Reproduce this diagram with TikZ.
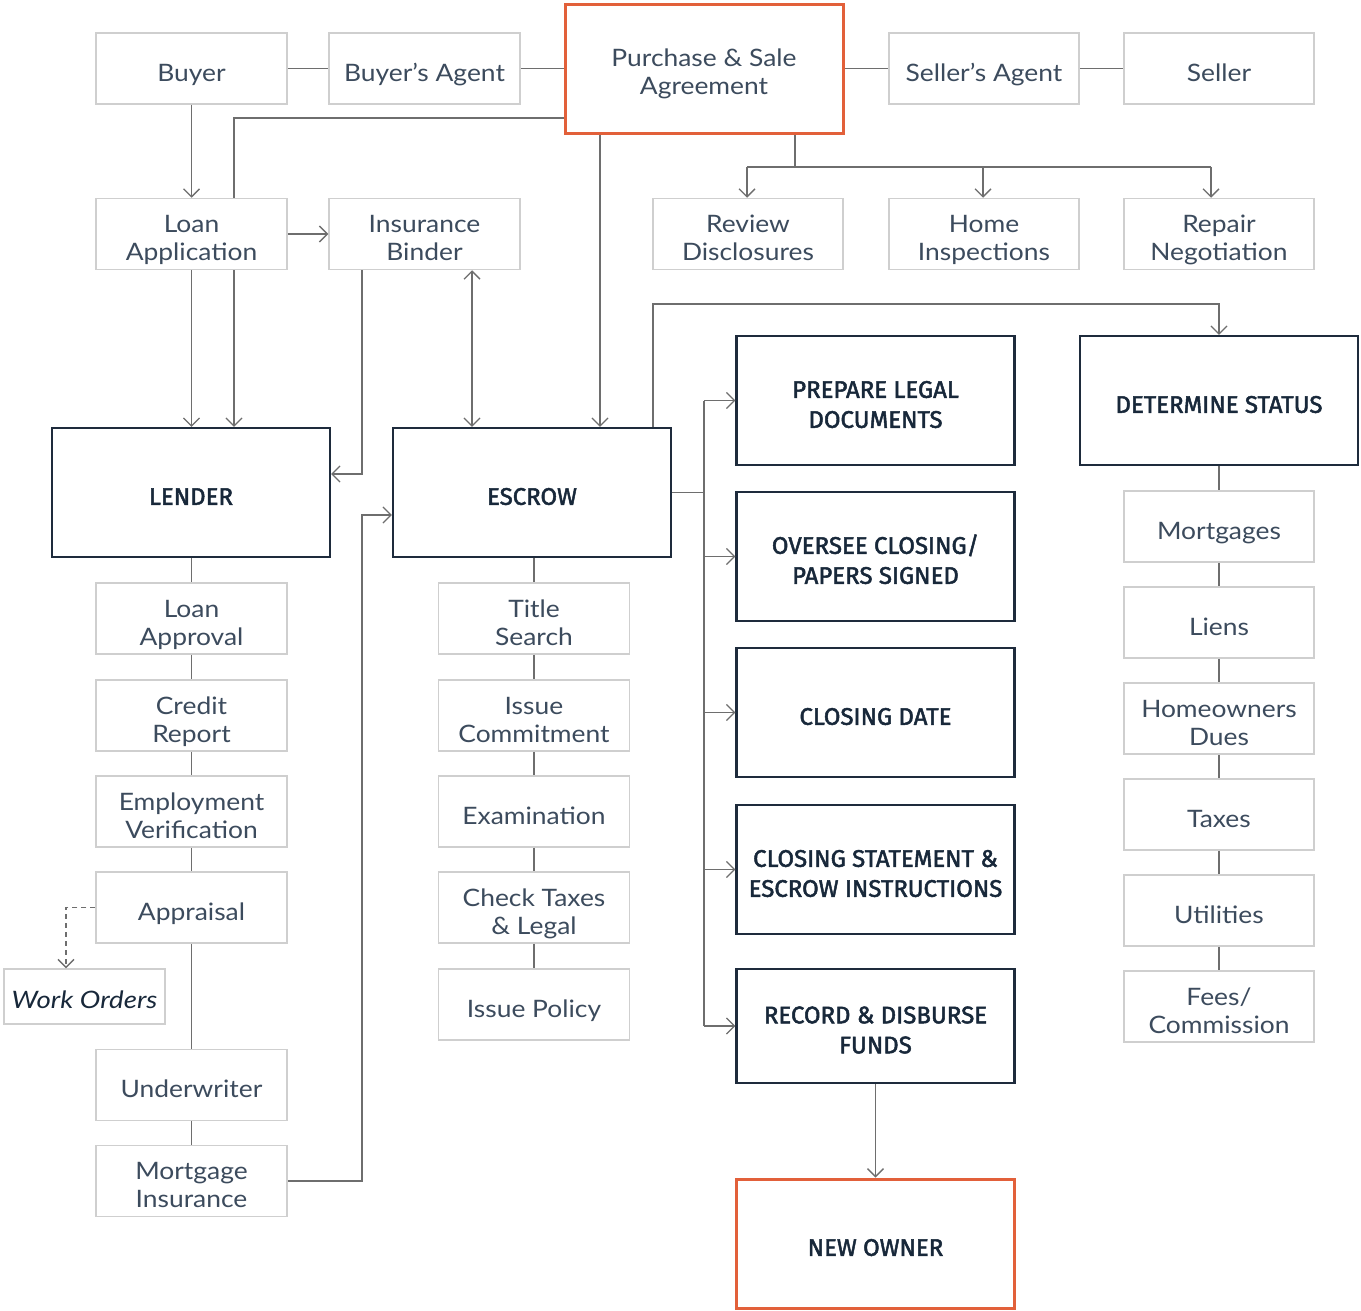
\documentclass[tikz,border=0pt]{standalone}
\usepackage{fontspec}
\setmainfont{Lato}
\newfontfamily\smallfont[FakeStretch=1.1]{Lato}
\newfontfamily\capfont[FakeBold=2]{Fira Sans}
\usetikzlibrary{arrows.meta}
\definecolor{boxgray}{HTML}{CFCFCF}
\definecolor{navy}{HTML}{1E2B3C}
\definecolor{orng}{HTML}{E2603A}
\definecolor{linegray}{HTML}{6E6E6E}
\definecolor{txtsoft}{HTML}{3C4B5D}
\definecolor{txtdark}{HTML}{18283A}
\def\tshift{7pt}
\newcommand\bt[1]{\raisebox{0pt}[\dimexpr\height+\tshift*2\relax][\depth]{\begin{tabular}{@{}c@{}}#1\end{tabular}}}
\tikzset{
  smallbox/.style={draw=boxgray, line width=1.5pt, fill=white, minimum width=191pt, minimum height=71pt,
    text=txtsoft, font=\smallfont\fontsize{24}{28}\selectfont\def\tshift{7pt}, inner sep=0pt},
  bigframe/.style={draw=navy, line width=2.2pt, fill=white, minimum width=278pt, minimum height=129pt, inner sep=0pt},
  bigbox/.style={bigframe, text=txtdark, font=\capfont\fontsize{24}{30}\selectfont\def\tshift{6.3pt}},
  conn/.style={draw=linegray, line width=1.3pt},
  >={Straight Barb[length=8pt,width=16pt]},
}
\begin{document}
\begin{tikzpicture}[x=1pt,y=-1pt]
\useasboundingbox[fill=white] (0,0) rectangle (1361,1311);
% top row
\node[smallbox] (buyer) at (191.5,68.5) {\bt{Buyer}};
\node[smallbox] (bagent) at (424.5,68.5) {\bt{Buyer’s Agent}};
\node[bigframe, draw=orng, line width=3pt, text=txtsoft, font=\smallfont\fontsize{24}{28}\selectfont\def\tshift{5.5pt}] (psa) at (704,69.5) {\bt{Purchase \& Sale\\Agreement}};
\node[smallbox, minimum width=190pt] (sagent) at (984,68.5) {\bt{Seller’s Agent}};
\node[smallbox, minimum width=190pt] (seller) at (1219,68.5) {\bt{Seller}};
% second row
\node[smallbox] (loanapp) at (191.5,234) {\bt{Loan\\Application}};
\node[smallbox] (binder) at (424.5,234) {\bt{Insurance\\Binder}};
\node[smallbox, minimum width=190pt] (review) at (748,234) {\bt{Review\\Disclosures}};
\node[smallbox, minimum width=190pt] (home) at (984,234) {\bt{Home\\Inspections}};
\node[smallbox, minimum width=190pt] (repair) at (1219,234) {\bt{Repair\\Negotiation}};
% big boxes
\node[bigbox] (lender) at (191,492.5) {\bt{LENDER}};
\node[bigbox] (escrow) at (532,492.5) {\bt{ESCROW}};
\node[bigbox] (prepare) at (875.5,400.5) {\bt{PREPARE LEGAL\\DOCUMENTS}};
\node[bigbox] (status) at (1219,400.5) {\bt{DETERMINE STATUS}};
\node[bigbox] (oversee) at (875.5,556.5) {\bt{OVERSEE CLOSING/\\PAPERS SIGNED}};
\node[bigbox] (cdate) at (875.5,712.5) {\bt{CLOSING DATE}};
\node[bigbox] (cstmt) at (875.5,869.5) {\bt{CLOSING STATEMENT \&\\ESCROW INSTRUCTIONS}};
\node[bigbox, minimum height=114pt] (record) at (875.5,1026) {\bt{RECORD \& DISBURSE\\FUNDS}};
\node[bigbox, draw=orng, line width=3pt] (newowner) at (875.5,1243.5) {\bt{NEW OWNER}};
% lender column
\node[smallbox] (loanappr) at (191.5,618.5) {\bt{Loan\\Approval}};
\node[smallbox] (credit) at (191.5,715.5) {\bt{Credit\\Report}};
\node[smallbox] (employ) at (191.5,811.5) {\bt{Employment\\Verification}};
\node[smallbox] (appraisal) at (191.5,907.5) {\bt{Appraisal}};
\node[smallbox] (underwriter) at (191.5,1085) {\bt{Underwriter}};
\node[smallbox] (mortins) at (191.5,1181) {\bt{Mortgage\\Insurance}};
\node[smallbox, minimum width=161pt, minimum height=55pt, text=txtdark, font=\smallfont\itshape\fontsize{24}{28}\selectfont\addfontfeatures{FakeStretch=1.15}\def\tshift{6pt}] (workorders) at (84.5,996.5) {\bt{Work Orders}};
% escrow column
\node[smallbox] (title) at (534,618.5) {\bt{Title\\Search}};
\node[smallbox] (commit) at (534,715.5) {\bt{Issue\\Commitment}};
\node[smallbox] (exam) at (534,811.5) {\bt{Examination}};
\node[smallbox] (checktax) at (534,907.5) {\bt{Check Taxes\\\& Legal}};
\node[smallbox] (policy) at (534,1004.5) {\bt{Issue Policy}};
% status column
\node[smallbox, minimum width=190pt] (mortgages) at (1219,526.5) {\bt{Mortgages}};
\node[smallbox, minimum width=190pt] (liens) at (1219,622.5) {\bt{Liens}};
\node[smallbox, minimum width=190pt] (hoa) at (1219,718.5) {\bt{Homeowners\\Dues}};
\node[smallbox, minimum width=190pt] (taxes) at (1219,814.5) {\bt{Taxes}};
\node[smallbox, minimum width=190pt] (utilities) at (1219,910.5) {\bt{Utilities}};
\node[smallbox, minimum width=190pt] (fees) at (1219,1006.5) {\bt{Fees/\\Commission}};
% routing coordinates
\coordinate (psaleft) at (234,118);
\coordinate (psabus) at (795,167);
\coordinate (bleft) at (747,167);
\coordinate (bmid) at (983,167);
\coordinate (bright) at (1211,167);
\coordinate (dbl) at (472,300);
\coordinate (psadrop) at (600,300);
\coordinate (ktop) at (653,304);
\coordinate (ebus) at (704,492.5);
\coordinate (binddrop) at (362,474);
\coordinate (insrise) at (362,515);
\coordinate (wdash) at (66,907.5);
% connectors top
\draw[conn] (buyer.east) -- (bagent.west);
\draw[conn] (bagent.east) -- (bagent.east -| psa.west);
\draw[conn] (sagent.west -| psa.east) -- (sagent.west);
\draw[conn] (sagent.east) -- (seller.west);
\draw[conn,->] (buyer.south) -- (loanapp.north);
\draw[conn] (psa.west |- psaleft) -- (psaleft) -- (psaleft |- loanapp.north);
\draw[conn,->] (loanapp.east) -- (binder.west);
\draw[conn,->] (loanapp.south) -- (lender.north -| loanapp.south);
\draw[conn,->] (psaleft |- loanapp.south) -- (psaleft |- lender.north);
\draw[conn,->] (binddrop |- binder.south) -- (binddrop) -- (binddrop -| lender.east);
\draw[conn,<->] (dbl |- binder.south) -- (dbl |- escrow.north);
\draw[conn,->] (psadrop |- psa.south) -- (psadrop |- escrow.north);
\draw[conn] (psabus |- psa.south) -- (psabus);
\draw[conn] (bleft) -- (bright);
\draw[conn,->] (bleft) -- (bleft |- review.north);
\draw[conn,->] (bmid) -- (bmid |- home.north);
\draw[conn,->] (bright) -- (bright |- repair.north);
\draw[conn,->] (ktop |- escrow.north) -- (ktop) -| (status.north);
% escrow bus
\draw[conn] (escrow.east) -- (ebus);
\draw[conn] (prepare.west -| ebus) -- (record.west -| ebus);
\foreach \n in {prepare,oversee,cdate,cstmt,record}{
  \draw[conn,->] (\n.west -| ebus) -- (\n.west);
}
\draw[conn,->] (mortins.east) -| (insrise) -- (insrise -| escrow.west);
% chains
\draw[conn] (lender.south -| loanappr.north) -- (loanappr.north);
\draw[conn] (loanappr) -- (credit);
\draw[conn] (credit) -- (employ);
\draw[conn] (employ) -- (appraisal);
\draw[conn] (appraisal) -- (underwriter);
\draw[conn] (underwriter) -- (mortins);
\draw[conn,dash pattern=on 5pt off 4pt,->] (appraisal.west) -- (wdash) -- (wdash |- workorders.north);
\draw[conn] (escrow.south -| title.north) -- (title.north);
\draw[conn] (title) -- (commit);
\draw[conn] (commit) -- (exam);
\draw[conn] (exam) -- (checktax);
\draw[conn] (checktax) -- (policy);
\draw[conn] (status.south) -- (mortgages.north);
\draw[conn] (mortgages) -- (liens);
\draw[conn] (liens) -- (hoa);
\draw[conn] (hoa) -- (taxes);
\draw[conn] (taxes) -- (utilities);
\draw[conn] (utilities) -- (fees);
\draw[conn,->] (record.south) -- (newowner.north);
\end{tikzpicture}
\end{document}
